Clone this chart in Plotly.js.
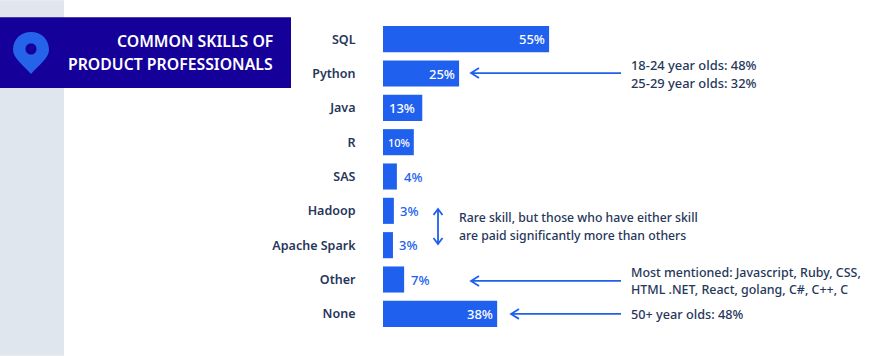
<!DOCTYPE html>
<html><head><meta charset="utf-8">
<script src="https://cdn.plot.ly/plotly-3.0.1.min.js"></script>
<style>html,body{margin:0;padding:0;background:#fff}</style></head>
<body><div id="chart" style="width:875px;height:356px"></div>
<script>
const categories = ["SQL","Python","Java","R","SAS","Hadoop","Apache Spark","Other","None"];
const barValues = [55,25.2,13,10.2,4.6,3.6,3.3,7,37.8];
const labels = ["55%","25%","13%","10%","4%","3%","3%","7%","38%"];
const labelInside = [true,true,true,true,false,false,false,false,true];
const titleLines = ["COMMON SKILLS OF","PRODUCT PROFESSIONALS"];
const noteLines = [
  "18-24 year olds: 48%",
  "25-29 year olds: 32%",
  "Rare skill, but those who have either skill",
  "are paid significantly more than others",
  "Most mentioned: Javascript, Ruby, CSS,",
  "HTML .NET, React, golang, C#, C++, C",
  "50+ year olds: 48%"
];
const noteX = [631,631,459,459,631,631,631];
const noteY = [65,83,218,236,273,290,314];
const noteSize = [12.9,12.9,12.25,12.25,12.45,12.45,12.7];
const W=875,H=356,L=383,T=21.875,B=24.875,pxPer=3.02;
const FONT='"Noto Sans", sans-serif';
const BLUE='#2060ee',DARK='#26375a',NAVY='#15009a';
const px=x=>(x-L)/(W-L), py=y=>1-(y-T)/(H-T-B);
const P=(x,y)=>px(x)+','+py(y);
const line=(path,color,w)=>({type:'path',xref:'paper',yref:'paper',path,line:{color,width:w},layer:'above'});
function hArrow(x1,x2,y){
  return line(`M${P(x2,y)} L${P(x1,y)} M${P(x1+8,y-5)} L${P(x1,y)} L${P(x1+8,y+5)}`,BLUE,1.8);
}
function vArrow(x,y1,y2){
  return line(`M${P(x,y1)} L${P(x,y2)} M${P(x-4.5,y1+6)} L${P(x,y1)} L${P(x+4.5,y1+6)} M${P(x-4.5,y2-6)} L${P(x,y2)} L${P(x+4.5,y2-6)}`,BLUE,1.8);
}
const rect=(x0,y0,x1,y1,c)=>({type:'rect',xref:'paper',yref:'paper',x0:px(x0),x1:px(x1),y0:py(y0),y1:py(y1),fillcolor:c,line:{width:0},layer:'below'});
const pin=`M${P(31,74)} C${P(24,66)} ${P(13,58)} ${P(13,50)} C${P(13,39)} ${P(21,32)} ${P(31,32)} C${P(41,32)} ${P(49,39)} ${P(49,50)} C${P(49,58)} ${P(38,66)} ${P(31,74)} Z`;
const hole=`M${P(25.5,49)} C${P(25.5,45.5)} ${P(28,43.5)} ${P(31,43.5)} C${P(34,43.5)} ${P(36.5,45.5)} ${P(36.5,49)} C${P(36.5,52.5)} ${P(34,54.5)} ${P(31,54.5)} C${P(28,54.5)} ${P(25.5,52.5)} ${P(25.5,49)} Z`;
const shapes=[
  rect(0,0,64,356,'#e0e6ed'),
  rect(0,17,291,88,NAVY),
  {type:'path',xref:'paper',yref:'paper',path:pin,fillcolor:'#2563eb',line:{width:0},layer:'above'},
  {type:'path',xref:'paper',yref:'paper',path:hole,fillcolor:NAVY,line:{width:0},layer:'above'},
  hArrow(471,621,73),hArrow(471,621,281),hArrow(511,621,314),vArrow(438,209,244)
];
const annotations=[];
const noPad={borderpad:0,borderwidth:0,showarrow:false};
titleLines.forEach((t,i)=>annotations.push({...noPad,xref:'paper',yref:'paper',x:px(273),y:py(i?64:41),xanchor:'right',yanchor:'middle',text:t,font:{family:FONT,size:15.8,color:'#fff',weight:600}}));
noteLines.forEach((t,i)=>annotations.push({...noPad,xref:'paper',yref:'paper',x:px(noteX[i]),y:py(noteY[i]),xanchor:'left',yanchor:'middle',text:t,font:{family:FONT,size:noteSize[i],color:DARK,weight:500}}));
categories.forEach((c,i)=>{
  const inside=labelInside[i];
  const small=c==='R';
  const shift=inside?(c==='Java'?-7:-4):(c==='SAS'?7:6.5);
  annotations.push({...noPad,xref:'x',yref:'y',x:barValues[i],y:c,xanchor:inside?'right':'left',yanchor:'middle',xshift:shift,text:labels[i],
    font:{family:FONT,size:small?11:13,color:inside?'#fff':BLUE,weight:500}});
});
const trace={type:'bar',orientation:'h',y:categories,x:barValues,marker:{color:BLUE,line:{width:0}},hoverinfo:'skip'};
const layout={width:W,height:H,margin:{l:L,r:0,t:T,b:B,pad:0},paper_bgcolor:'#fff',plot_bgcolor:'rgba(0,0,0,0)',bargap:0.24,showlegend:false,
  xaxis:{range:[0,(W-L)/pxPer],visible:false,fixedrange:true},
  yaxis:{type:'category',autorange:'reversed',showgrid:false,zeroline:false,showline:false,ticks:'outside',ticklen:24,tickcolor:'rgba(0,0,0,0)',
    tickfont:{family:FONT,size:12.5,color:DARK,weight:600},fixedrange:true},
  shapes,annotations};
Plotly.newPlot('chart',[trace],layout,{displayModeBar:false,staticPlot:true});
</script></body></html>
